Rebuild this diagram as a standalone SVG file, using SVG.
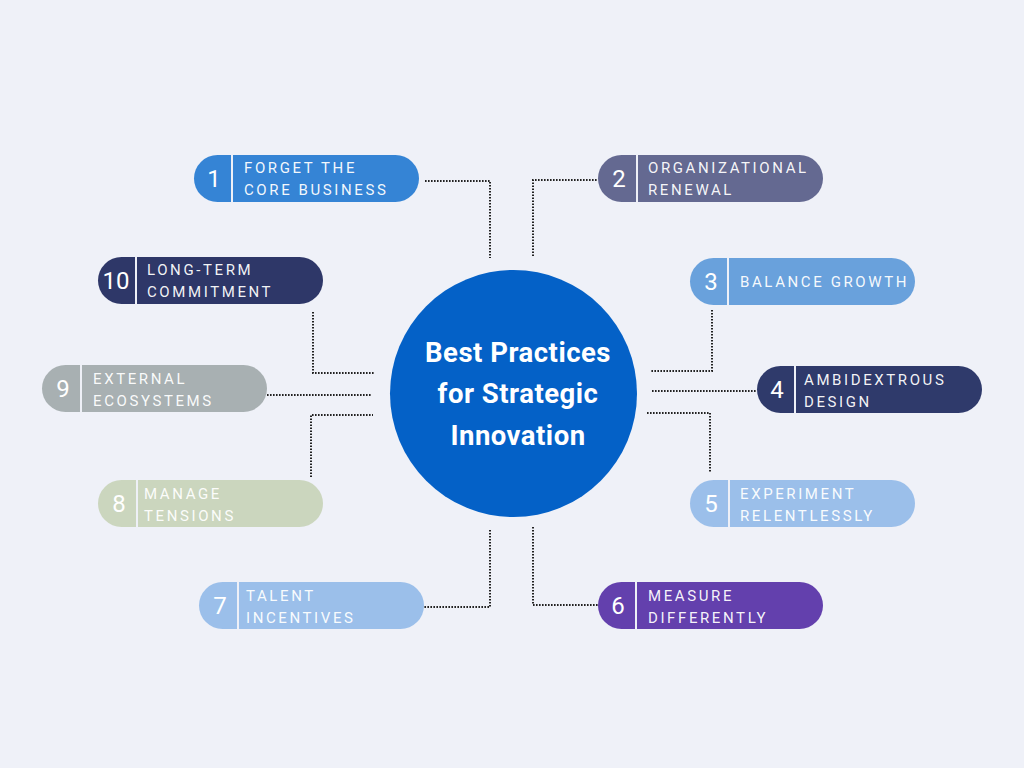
<svg xmlns="http://www.w3.org/2000/svg" width="1024" height="768" viewBox="0 0 1024 768">
<style>
.lbl{font-family:Roboto,"Liberation Sans",sans-serif;font-size:15px;letter-spacing:2.6px;fill:#ffffff;fill-opacity:0.95}
.num{font-family:Roboto,"Liberation Sans",sans-serif;font-size:24px;fill:#ffffff;text-anchor:middle}
.div{stroke:#eef0f7;stroke-width:2}
.con{fill:none;stroke:#222;stroke-width:2;stroke-dasharray:1.6 1.4}
.title{font-family:Roboto,"Liberation Sans",sans-serif;font-size:27.5px;letter-spacing:0.5px;font-weight:bold;fill:#ffffff;text-anchor:middle}
</style>
<rect width="1024" height="768" fill="#eff1f8"/>
<g id="connectors">
<polyline class="con" points="425,181 490,181 490,258"/>
<polyline class="con" points="533,256 533,180 597,180"/>
<polyline class="con" points="712,310 712,371 650,371"/>
<polyline class="con" points="652,391 757,391"/>
<polyline class="con" points="647,413 710,413 710,473"/>
<polyline class="con" points="533,527 533,605 598,605"/>
<polyline class="con" points="490,530 490,607 424,607"/>
<polyline class="con" points="311,477 311,415 373,415"/>
<polyline class="con" points="267,395 372,395"/>
<polyline class="con" points="313,312 313,373 375,373"/>
</g>
<g id="center">
<circle cx="513.5" cy="393.5" r="123.5" fill="#0461c7"/>
<text class="title" x="518" y="362">Best Practices</text>
<text class="title" x="518" y="403">for Strategic</text>
<text class="title" x="518" y="445">Innovation</text>
</g>
<g id="node1">
<rect x="194" y="155" width="225" height="47" rx="23.5" fill="#3584d5"/>
<line class="div" x1="232" y1="155" x2="232" y2="202"/>
<text class="num" x="214" y="187">1</text>
<text class="lbl" x="244" y="173">FORGET THE</text>
<text class="lbl" x="244" y="195">CORE BUSINESS</text>
</g>
<g id="node2">
<rect x="598" y="155" width="225" height="47" rx="23.5" fill="#646991"/>
<line class="div" x1="637" y1="155" x2="637" y2="202"/>
<text class="num" x="619" y="187">2</text>
<text class="lbl" x="648" y="173">ORGANIZATIONAL</text>
<text class="lbl" x="648" y="195">RENEWAL</text>
</g>
<g id="node3">
<rect x="690" y="258" width="225" height="47" rx="23.5" fill="#69a1dc"/>
<line class="div" x1="728" y1="258" x2="728" y2="305"/>
<text class="num" x="711" y="290">3</text>
<text class="lbl" x="740" y="287">BALANCE GROWTH</text>
</g>
<g id="node4">
<rect x="757" y="366" width="225" height="47" rx="23.5" fill="#2f3a6b"/>
<line class="div" x1="795" y1="366" x2="795" y2="413"/>
<text class="num" x="777" y="398">4</text>
<text class="lbl" x="804" y="385">AMBIDEXTROUS</text>
<text class="lbl" x="804" y="407">DESIGN</text>
</g>
<g id="node5">
<rect x="690" y="480" width="225" height="47" rx="23.5" fill="#9bbfea"/>
<line class="div" x1="729" y1="480" x2="729" y2="527"/>
<text class="num" x="711" y="512">5</text>
<text class="lbl" x="740" y="499">EXPERIMENT</text>
<text class="lbl" x="740" y="521">RELENTLESSLY</text>
</g>
<g id="node6">
<rect x="598" y="582" width="225" height="47" rx="23.5" fill="#6340ad"/>
<line class="div" x1="636" y1="582" x2="636" y2="629"/>
<text class="num" x="618" y="614">6</text>
<text class="lbl" x="648" y="601">MEASURE</text>
<text class="lbl" x="648" y="623">DIFFERENTLY</text>
</g>
<g id="node7">
<rect x="199" y="582" width="225" height="47" rx="23.5" fill="#9bbfea"/>
<line class="div" x1="238" y1="582" x2="238" y2="629"/>
<text class="num" x="220" y="614">7</text>
<text class="lbl" x="246" y="601">TALENT</text>
<text class="lbl" x="246" y="623">INCENTIVES</text>
</g>
<g id="node8">
<rect x="98" y="480" width="225" height="47" rx="23.5" fill="#cbd6be"/>
<line class="div" x1="137" y1="480" x2="137" y2="527"/>
<text class="num" x="119" y="512">8</text>
<text class="lbl" x="144" y="499">MANAGE</text>
<text class="lbl" x="144" y="521">TENSIONS</text>
</g>
<g id="node9">
<rect x="42" y="365" width="225" height="47" rx="23.5" fill="#a8b0b2"/>
<line class="div" x1="81" y1="365" x2="81" y2="412"/>
<text class="num" x="63" y="397">9</text>
<text class="lbl" x="93" y="384">EXTERNAL</text>
<text class="lbl" x="93" y="406">ECOSYSTEMS</text>
</g>
<g id="node10">
<rect x="98" y="257" width="225" height="47" rx="23.5" fill="#2e3768"/>
<line class="div" x1="136" y1="257" x2="136" y2="304"/>
<text class="num" x="116" y="289">10</text>
<text class="lbl" x="147" y="275">LONG-TERM</text>
<text class="lbl" x="147" y="297">COMMITMENT</text>
</g>
</svg>
